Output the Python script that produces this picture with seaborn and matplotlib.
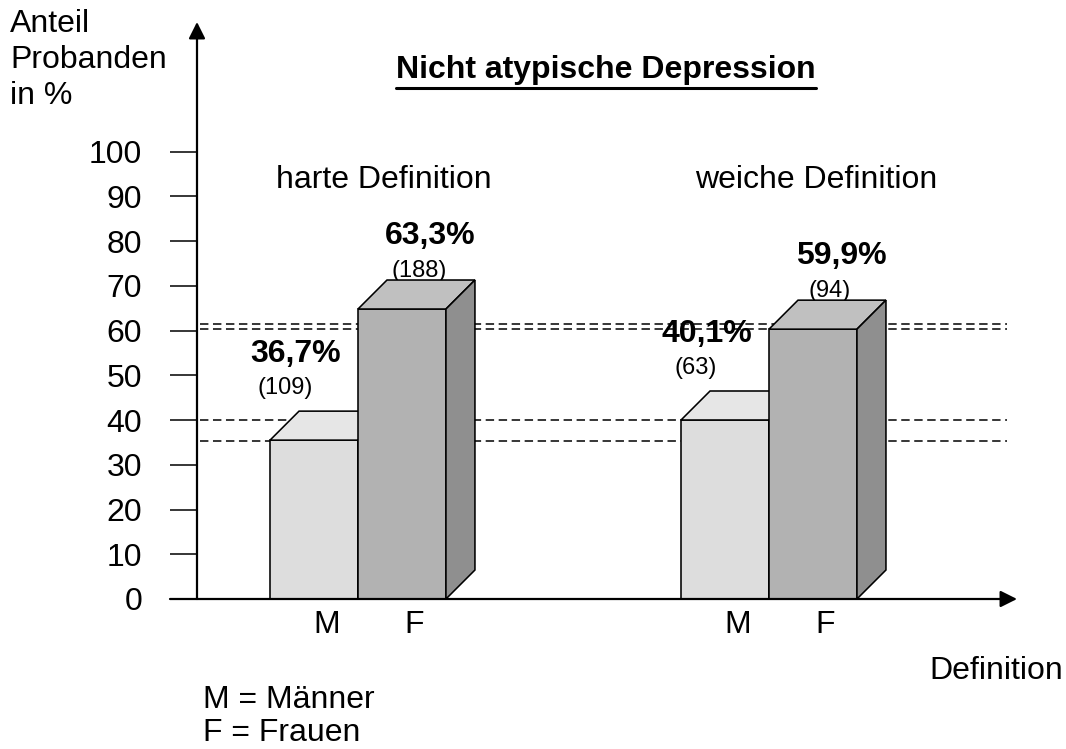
import pandas as pd
import seaborn as sns
import matplotlib.pyplot as plt
from matplotlib.patches import Polygon
from matplotlib.lines import Line2D

# Werte (Höhe der Vorderseite)
definitions = ["harte Definition", "weiche Definition"]
geschlecht = ["M", "F"]
anteil_m = [35.5, 40.0]
anteil_f = [64.8, 60.3]
prozent_m = ["36,7%", "40,1%"]
prozent_f = ["63,3%", "59,9%"]
n_m = ["(109)", "(63)"]
n_f = ["(188)", "(94)"]
hilfslinien = [61.5, 60.4, 40.0, 35.3]

df = pd.DataFrame({
    "definition": definitions * 2,
    "geschlecht": ["M"] * 2 + ["F"] * 2,
    "anteil": anteil_m + anteil_f,
})

W, H = 1066, 749
sns.set_style("white")
plt.rcParams["font.family"] = ["Liberation Sans", "DejaVu Sans"]
plt.rcParams["text.color"] = "black"
FS = 23


def px(x, y):
    # Pixel (von oben links) -> figure fraction
    return x / W, 1 - y / H


fig = plt.figure(figsize=(W / 100, H / 100), dpi=100)
ax = fig.add_axes([197 / W, 150 / H, 820 / W, 577 / H])

farben = {"M": "#dddddd", "F": "#b2b2b2"}
oben = {"M": "#e6e6e6", "F": "#c0c0c0"}
seite = {"M": "#c8c8c8", "F": "#8f8f8f"}

sns.barplot(data=df, x="definition", y="anteil", hue="geschlecht",
            hue_order=geschlecht, palette=farben, width=0.428, gap=0,
            edgecolor="black", linewidth=1.15, legend=False, ax=ax)

ax.set_xlim(-0.3917, 1.6034)
ax.set_ylim(0, 577 / 4.475)
for s in ax.spines.values():
    s.set_visible(False)
ax.set_xlabel("")
ax.set_ylabel("")

# 3D-Effekt: Deckel und Seite je Balken
dx = 29 / 411
dy = 29 / 4.475
ticks_pos, ticks_lab = [], []
for i, (g, cont) in enumerate(zip(geschlecht, ax.containers)):
    z = 2 + 2 * i
    for bar in cont:
        bar.set_zorder(z)
        x0 = bar.get_x()
        x1 = x0 + bar.get_width()
        h = bar.get_height()
        ax.add_patch(Polygon([(x0, h), (x1, h), (x1 + dx, h + dy), (x0 + dx, h + dy)],
                             closed=True, fc=oben[g], ec="black", lw=1.15, zorder=z + 0.5))
        ax.add_patch(Polygon([(x1, 0), (x1, h), (x1 + dx, h + dy), (x1 + dx, dy)],
                             closed=True, fc=seite[g], ec="black", lw=1.15, zorder=z + 0.5))
        ticks_pos.append(x0 + bar.get_width() / 2 + 0.03)
        ticks_lab.append(g)

# Beschriftung der Balken
for j, bar in enumerate(ax.containers[0]):
    xc = bar.get_x() + bar.get_width() / 2
    h = bar.get_height()
    ax.text(xc - 0.044, h + 19.3, prozent_m[j], fontsize=FS, fontweight="bold",
            ha="center", va="center", zorder=0.5)
    ax.text(xc - 0.071, h + 11.7, n_m[j], fontsize=17, ha="center", va="center", zorder=0.5)
for j, bar in enumerate(ax.containers[1]):
    xc = bar.get_x() + bar.get_width() / 2
    h = bar.get_height()
    ax.text(xc + 0.068, h + 16.3, prozent_f[j], fontsize=FS, fontweight="bold",
            ha="center", va="center", zorder=0.5)
    ax.text(xc + 0.041, h + 8.6, n_f[j], fontsize=17, ha="center", va="center", zorder=0.5)

# gestrichelte Hilfslinien
for y in hilfslinien:
    ax.axhline(y, xmin=3 / 820, xmax=810 / 820, color="black", lw=1.1,
               ls=(0, (5.5, 3)), zorder=1)

# Achsen mit Pfeilen
pfeil = dict(arrowstyle="-|>", color="black", lw=1.6, mutation_scale=25, shrinkA=0, shrinkB=0)
ax.annotate("", xy=(0, 1), xytext=(0, 0), xycoords="axes fraction",
            arrowprops=pfeil, annotation_clip=False, zorder=10)
ax.annotate("", xy=(1, 0), xytext=(-27 / 820, 0), xycoords="axes fraction",
            arrowprops=pfeil, annotation_clip=False, zorder=10)

ax.set_yticks(range(0, 101, 10))
ax.tick_params(axis="y", left=True, length=19.4, width=1.1, pad=20, labelsize=FS,
               colors="black")
ax.set_xticks(ticks_pos, ticks_lab)
ax.tick_params(axis="x", bottom=False, length=0, pad=8, labelsize=FS, colors="black")

# Texte
fig.text(*px(10, 32), "Anteil", fontsize=FS, va="baseline")
fig.text(*px(10, 68), "Probanden", fontsize=FS, va="baseline")
fig.text(*px(10, 104), "in %", fontsize=FS, va="baseline")

titel = fig.text(*px(606, 78), "Nicht atypische Depression", fontsize=FS,
                 fontweight="bold", ha="center", va="baseline")
fig.text(*px(276, 188), definitions[0], fontsize=FS, va="baseline")
fig.text(*px(695, 188), definitions[1], fontsize=FS, va="baseline")
fig.text(*px(929, 679), "Definition", fontsize=FS, va="baseline")
fig.text(*px(203, 708), "M = Männer", fontsize=FS, va="baseline")
fig.text(*px(203, 741), "F = Frauen", fontsize=FS, va="baseline")

# Unterstreichung des Titels
fig.canvas.draw()
bb = titel.get_window_extent()
fig.add_artist(Line2D([bb.x0 / W, bb.x1 / W], [1 - 88 / H] * 2,
                      transform=fig.transFigure, color="black", lw=2.2))

fig.savefig("out.png", dpi=100)
